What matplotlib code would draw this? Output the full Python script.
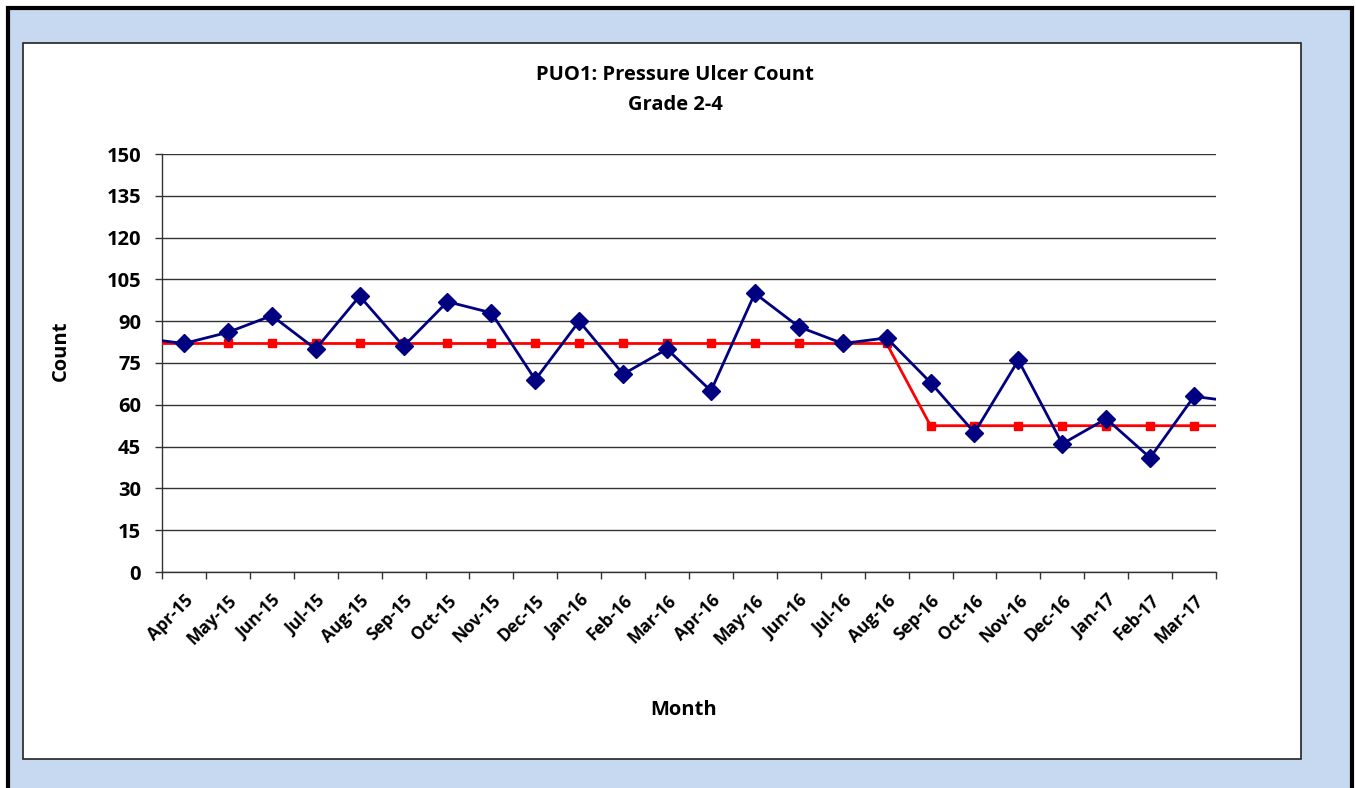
import matplotlib
matplotlib.use("Agg")
import matplotlib.pyplot as plt
from matplotlib.patches import Rectangle

months = ["Apr-15", "May-15", "Jun-15", "Jul-15", "Aug-15", "Sep-15", "Oct-15", "Nov-15",
          "Dec-15", "Jan-16", "Feb-16", "Mar-16", "Apr-16", "May-16", "Jun-16", "Jul-16",
          "Aug-16", "Sep-16", "Oct-16", "Nov-16", "Dec-16", "Jan-17", "Feb-17", "Mar-17"]
counts = [82, 86, 92, 80, 99, 81, 97, 93, 69, 90, 71, 80, 65, 100, 88, 82, 84,
          68, 50, 76, 46, 55, 41, 63]
means = [82] * 17 + [52.5] * 7
# neighbouring months just outside the visible range (line runs to the edges)
count_before, count_after = 84, 61
mean_before, mean_after = 82, 52.5
y_ticks = list(range(0, 151, 15))

FONT = ['Open Sans', 'DejaVu Sans']
plt.rcParams['font.family'] = FONT
plt.rcParams['font.weight'] = 'bold'

W, H = 1356, 788
fig = plt.figure(figsize=(W / 100, H / 100), dpi=100)
fig.patch.set_facecolor('white')
# outer light-blue frame with black border
fig.patches.append(Rectangle((8 / W, -0.01), (1352 - 8) / W, (H - 8) / H + 0.01,
                             transform=fig.transFigure, facecolor='#C6D9F1',
                             edgecolor='black', linewidth=3, zorder=0))
# inner white chart panel
fig.patches.append(Rectangle((23 / W, 1 - 759 / H), (1301 - 23) / W, (759 - 43) / H,
                             transform=fig.transFigure, facecolor='white',
                             edgecolor='#222222', linewidth=1.2, zorder=1))

ax = fig.add_axes([162 / W, 1 - 572 / H, 1054 / W, 418 / H])
ax.set_zorder(5)
ax.set_facecolor('none')

n = len(months)
xs = list(range(-1, n + 1))
ax.plot(xs, [count_before] + counts + [count_after], color='#000080', linewidth=2,
        marker='D', markersize=9, markevery=list(range(1, n + 1)), zorder=4, clip_on=True)
ax.plot(xs, [mean_before] + means + [mean_after], color='#FF0000', linewidth=2,
        marker='s', markersize=6, markevery=list(range(1, n + 1)), zorder=3, clip_on=True)

ax.set_xlim(-0.5, n - 0.5)
ax.set_ylim(0, 150)
ax.set_yticks(y_ticks)
ax.set_yticklabels([str(v) for v in y_ticks], fontsize=14.5, fontweight='bold')
ax.yaxis.grid(True, color='#333333', linewidth=1)
ax.set_axisbelow(True)

ax.set_xticks([i - 0.5 for i in range(n + 1)])
ax.set_xticklabels([])
ax.set_xticks(range(n), minor=True)
ax.set_xticklabels(months, minor=True, rotation=45, ha='right', va='top',
                   rotation_mode='anchor', fontsize=12.5, fontweight='bold')
ax.tick_params(axis='x', which='minor', length=0, pad=14)
ax.tick_params(axis='x', which='major', length=5, width=1, color='#333333')
ax.tick_params(axis='y', length=5, width=1, color='#333333', pad=10)

for s in ['top', 'right']:
    ax.spines[s].set_visible(False)
for s in ['left', 'bottom']:
    ax.spines[s].set_color('#333333')
    ax.spines[s].set_linewidth(1)

fig.text(675 / W, 1 - 75 / H, "PUO1: Pressure Ulcer Count", ha='center', va='center',
         fontsize=14.5, fontweight='bold')
fig.text(675 / W, 1 - 105 / H, "Grade 2-4", ha='center', va='center',
         fontsize=14.5, fontweight='bold')
fig.text(61 / W, 1 - 351 / H, "Count", ha='center', va='center', rotation=90,
         fontsize=14.5, fontweight='bold')
fig.text(684 / W, 1 - 710 / H, "Month", ha='center', va='center',
         fontsize=14.5, fontweight='bold')

fig.savefig("out.png", dpi=100)
